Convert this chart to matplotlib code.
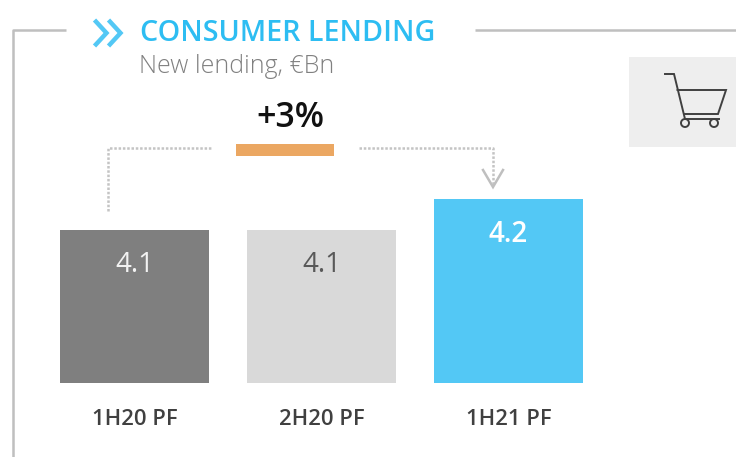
import matplotlib
matplotlib.use("Agg")
import matplotlib.pyplot as plt
from matplotlib.patches import Rectangle, Circle

plt.rcParams["font.family"] = ["Open Sans", "Noto Sans", "DejaVu Sans"]

categories = ["1H20 PF", "2H20 PF", "1H21 PF"]
values = [4.1, 4.1, 4.2]
value_labels = ["4.1", "4.1", "4.2"]
bar_colors = ["#7f7f7f", "#d9d9d9", "#53c8f5"]
label_colors = ["#f2f2f2", "#595959", "#ffffff"]

W, H = 736, 457
fig = plt.figure(figsize=(W / 100, H / 100), dpi=100, facecolor="white")

# overlay in pixel coordinates for the frame, arrows and icon
deco = fig.add_axes([0, 0, 1, 1])
deco.set_xlim(0, W)
deco.set_ylim(H, 0)
deco.axis("off")

# the value axis is truncated in the original
ax = fig.add_axes([41 / W, (H - 383) / H, 561 / W, 184 / H])
ax.patch.set_alpha(0)
ax.set_xlim(-0.5, 2.5)
ax.set_ylim(3.606, 4.2)
ax.bar(range(3), values, width=149 / 187, color=bar_colors)
for i, v in enumerate(values):
    ax.annotate(value_labels[i], (i, v), xytext=(0, -42.5), textcoords="offset pixels",
                ha="center", va="baseline", fontsize=20, color=label_colors[i],
                fontweight="semibold" if i == 2 else "regular")
ax.set_xticks(range(3))
ax.set_xticklabels(categories, fontsize=15.8, fontweight="semibold", color="#404040")
ax.tick_params(axis="x", length=0, pad=18.5)
ax.set_yticks([])
for s in ax.spines.values():
    s.set_visible(False)

# frame
frame = dict(color="#bfbfbf", lw=1.8, solid_capstyle="butt")
deco.plot([66, 12.7, 12.7], [29.7, 29.7, 457], **frame)
deco.plot([475, 736], [29.7, 29.7], **frame)

# chevrons
for dx in (0, 14):
    deco.plot([94.5 + dx, 106.5 + dx, 94.5 + dx], [20, 33, 46], color="#53c8f5", lw=3.2,
              solid_joinstyle="miter", solid_capstyle="butt")

deco.text(140, 41, "CONSUMER LENDING", fontsize=20.6, fontweight="semibold", color="#2dbdf2",
          ha="left", va="baseline")
deco.text(139, 73, "New lending, €Bn", fontsize=18, fontweight="light", color="#808080",
          ha="left", va="baseline")
deco.text(290, 127, "+3%", fontsize=24.5, fontweight="semibold", color="#111111",
          ha="center", va="baseline")

# growth bracket
dots = dict(color="#c4c4c4", lw=1.8, ls=(0, (1, 0.72)))
deco.plot([107.5, 107.5, 212], [211, 148, 148], **dots)
deco.plot([359, 493, 493], [148, 148, 186], **dots)
deco.plot([483, 493, 503], [170, 187, 170], color="#bfbfbf", lw=1.8, solid_joinstyle="miter")
deco.add_patch(Rectangle((236, 143.5), 98, 12.5, color="#eba762", lw=0))

# cart icon
deco.add_patch(Rectangle((629, 57), 107, 90, color="#eeeeee", lw=0))
cart = dict(color="#404040", lw=1.4, solid_joinstyle="miter")
deco.plot([665, 674, 685, 719], [74, 74, 119, 119], **cart)
deco.plot([677.5, 726, 718, 685], [90, 90, 114, 114], **cart)
for cx in (685, 714):
    deco.add_patch(Circle((cx, 123), 4, fc="none", ec="#404040", lw=1.4))

fig.savefig("out.png", dpi=100)
